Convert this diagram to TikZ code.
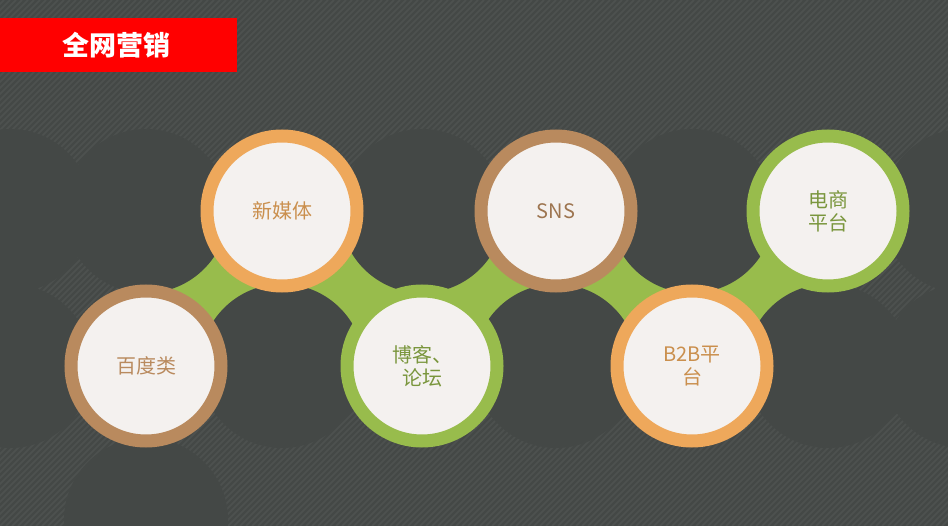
\documentclass[tikz,border=0pt]{standalone}
\usepackage{fontspec}
\setmainfont{Noto Sans CJK SC}
\definecolor{bg}{HTML}{444846}
\definecolor{org}{HTML}{EEA85B}
\definecolor{brn}{HTML}{B98A5E}
\definecolor{grn}{HTML}{98BC4C}
\definecolor{inr}{HTML}{F4F1EF}
\definecolor{ttl}{HTML}{FF0000}
\begin{document}
\begin{tikzpicture}[x=1pt,y=-1pt,
  ring/.style={circle,minimum size=150pt,inner sep=0pt,line width=13pt,fill=inr,align=center,font=\fontsize{20}{23}\selectfont},
  hole/.style={circle,fill=bg,minimum size=164pt,inner sep=0pt}]
\fill[bg] (0,0) rectangle (948,526);
\useasboundingbox (0,0) rectangle (948,526);
\foreach \i in {-600,-594,...,948}{\draw[white,opacity=0.05,line width=1.5pt] (\i,526) -- (\i+526,0);}
\coordinate (c1) at (146,366); \coordinate (c2) at (282,211); \coordinate (c3) at (422,366);
\coordinate (c4) at (556,211); \coordinate (c5) at (692,366); \coordinate (c6) at (828,211);
\draw[grn,line width=100pt] (c1) -- (c2) -- (c3) -- (c4) -- (c5) -- (c6);
\foreach \p/\n in {{146,211}/h1,{282,366}/h2,{422,211}/h3,{556,366}/h4,{692,211}/h5,{828,366}/h6,{10,211}/h7,{964,211}/h8,{146,520}/h9,{10,366}/h10,{964,366}/h11}
  \node[hole] (\n) at (\p) {};
\node[ring,draw=brn,text=brn] (n1) at (c1) {百度类};
\node[ring,draw=org,text=org!85!black] (n2) at (c2) {新媒体};
\node[ring,draw=grn,text=grn!80!black] (n3) at (c3) {博客、\\论坛};
\node[ring,draw=brn,text=brn!85!black] (n4) at (c4) {SNS};
\node[ring,draw=org,text=org!85!black] (n5) at (c5) {B2B平\\台};
\node[ring,draw=grn,text=grn!80!black] (n6) at (c6) {电商\\平台};
\fill[ttl] (0,18) rectangle (237,72);
\node[white,font=\fontsize{27}{30}\selectfont\bfseries] (t) at (116,45) {全网营销};
\end{tikzpicture}
\end{document}
